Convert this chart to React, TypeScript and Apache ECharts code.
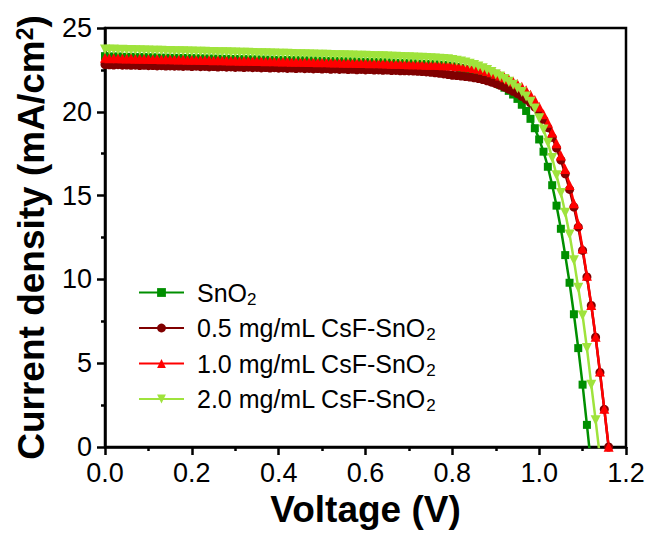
import React, { useEffect, useRef } from "react";
import * as echarts from "echarts";

const voltage = [
  0.0, 0.01, 0.02, 0.03, 0.04, 0.05, 0.06, 0.07, 0.08, 0.09,
  0.1, 0.11, 0.12, 0.13, 0.14, 0.15, 0.16, 0.17, 0.18, 0.19,
  0.2, 0.21, 0.22, 0.23, 0.24, 0.25, 0.26, 0.27, 0.28, 0.29,
  0.3, 0.31, 0.32, 0.33, 0.34, 0.35, 0.36, 0.37, 0.38, 0.39,
  0.4, 0.41, 0.42, 0.43, 0.44, 0.45, 0.46, 0.47, 0.48, 0.49,
  0.5, 0.51, 0.52, 0.53, 0.54, 0.55, 0.56, 0.57, 0.58, 0.59,
  0.6, 0.61, 0.62, 0.63, 0.64, 0.65, 0.66, 0.67, 0.68, 0.69,
  0.7, 0.71, 0.72, 0.73, 0.74, 0.75, 0.76, 0.77, 0.78, 0.79,
  0.8, 0.81, 0.82, 0.83, 0.84, 0.85, 0.86, 0.87, 0.88, 0.89,
  0.9, 0.91, 0.92, 0.93, 0.94, 0.95, 0.96, 0.97, 0.98, 0.99,
  1.0, 1.01, 1.02, 1.03, 1.04, 1.05, 1.06, 1.07, 1.08, 1.09,
  1.1, 1.11, 1.12, 1.13, 1.14, 1.15, 1.16,
];

const jSnO2 = [
  23.32, 23.30, 23.29, 23.30, 23.28, 23.27, 23.28, 23.26, 23.25, 23.26,
  23.24, 23.25, 23.23, 23.22, 23.23, 23.21, 23.22, 23.20, 23.21, 23.19,
  23.20, 23.18, 23.19, 23.17, 23.18, 23.16, 23.17, 23.15, 23.16, 23.14,
  23.15, 23.13, 23.14, 23.12, 23.13, 23.11, 23.12, 23.10, 23.11, 23.09,
  23.10, 23.08, 23.09, 23.07, 23.08, 23.06, 23.07, 23.05, 23.06, 23.04,
  23.05, 23.03, 23.04, 23.02, 23.02, 23.01, 23.00, 23.00, 22.99, 22.98,
  22.98, 22.97, 22.96, 22.96, 22.95, 22.94, 22.93, 22.92, 22.91, 22.90,
  22.89, 22.88, 22.87, 22.86, 22.85, 22.84, 22.83, 22.81, 22.79, 22.76,
  22.72, 22.67, 22.61, 22.54, 22.46, 22.37, 22.27, 22.16, 22.04, 21.91,
  21.77, 21.61, 21.44, 21.25, 21.03, 20.77, 20.42, 20.05, 19.58, 19.02,
  18.35, 17.62, 16.72, 15.62, 14.40, 13.02, 11.45, 9.80, 7.92, 5.90,
  3.72, 1.32, -1.15,
];

const jCsF05 = [
  22.82, 22.80, 22.79, 22.81, 22.78, 22.79, 22.77, 22.78, 22.76, 22.77,
  22.75, 22.76, 22.74, 22.75, 22.73, 22.74, 22.72, 22.73, 22.71, 22.73,
  22.70, 22.72, 22.69, 22.71, 22.68, 22.70, 22.67, 22.69, 22.66, 22.68,
  22.65, 22.67, 22.64, 22.66, 22.63, 22.65, 22.62, 22.64, 22.61, 22.63,
  22.60, 22.62, 22.59, 22.61, 22.58, 22.60, 22.57, 22.59, 22.56, 22.58,
  22.55, 22.57, 22.54, 22.56, 22.53, 22.55, 22.52, 22.54, 22.51, 22.53,
  22.50, 22.52, 22.49, 22.50, 22.48, 22.49, 22.46, 22.47, 22.45, 22.45,
  22.44, 22.43, 22.42, 22.40, 22.38, 22.36, 22.33, 22.30, 22.26, 22.22,
  22.18, 22.16, 22.13, 22.10, 22.07, 22.03, 21.98, 21.92, 21.85, 21.77,
  21.68, 21.58, 21.47, 21.35, 21.22, 21.08, 20.92, 20.74, 20.53, 20.28,
  19.98, 19.55, 19.05, 18.48, 17.84, 17.12, 16.30, 15.37, 14.32, 13.12,
  11.73, 10.15, 8.45, 6.55, 4.45, 2.25, 0.00,
];

const jCsF10 = [
  23.22, 23.20, 23.21, 23.19, 23.20, 23.18, 23.19, 23.17, 23.18, 23.16,
  23.17, 23.15, 23.16, 23.14, 23.15, 23.13, 23.14, 23.12, 23.13, 23.11,
  23.12, 23.10, 23.11, 23.09, 23.10, 23.08, 23.09, 23.07, 23.08, 23.06,
  23.07, 23.05, 23.06, 23.04, 23.05, 23.03, 23.04, 23.02, 23.03, 23.01,
  23.02, 23.00, 23.01, 22.99, 23.00, 22.98, 22.99, 22.97, 22.98, 22.96,
  22.97, 22.95, 22.96, 22.94, 22.95, 22.93, 22.94, 22.92, 22.93, 22.91,
  22.92, 22.90, 22.91, 22.89, 22.89, 22.88, 22.87, 22.86, 22.86, 22.85,
  22.84, 22.83, 22.83, 22.82, 22.81, 22.81, 22.80, 22.79, 22.78, 22.77,
  22.76, 22.74, 22.72, 22.69, 22.66, 22.62, 22.57, 22.51, 22.44, 22.36,
  22.27, 22.17, 22.06, 21.94, 21.81, 21.66, 21.49, 21.29, 21.02, 20.70,
  20.30, 19.85, 19.35, 18.77, 18.12, 17.40, 16.58, 15.63, 14.55, 13.30,
  11.85, 10.22, 8.48, 6.58, 4.50, 2.28, 0.02,
];

const jCsF20 = [
  23.72, 23.70, 23.71, 23.69, 23.70, 23.68, 23.68, 23.67, 23.67, 23.66,
  23.66, 23.65, 23.65, 23.64, 23.63, 23.63, 23.62, 23.62, 23.61, 23.60,
  23.60, 23.59, 23.59, 23.58, 23.57, 23.57, 23.56, 23.56, 23.55, 23.54,
  23.54, 23.53, 23.52, 23.52, 23.51, 23.50, 23.50, 23.49, 23.48, 23.48,
  23.47, 23.46, 23.46, 23.45, 23.44, 23.44, 23.43, 23.42, 23.42, 23.41,
  23.40, 23.40, 23.39, 23.38, 23.38, 23.37, 23.36, 23.36, 23.35, 23.34,
  23.34, 23.33, 23.32, 23.31, 23.31, 23.30, 23.29, 23.28, 23.27, 23.26,
  23.25, 23.24, 23.23, 23.22, 23.21, 23.20, 23.18, 23.17, 23.15, 23.13,
  23.09, 23.05, 23.00, 22.94, 22.87, 22.79, 22.70, 22.60, 22.49, 22.37,
  22.24, 22.10, 21.95, 21.79, 21.61, 21.41, 21.18, 20.92, 20.60, 20.20,
  19.62, 18.95, 18.15, 17.24, 16.22, 15.15, 13.98, 12.68, 11.15, 9.50,
  7.85, 5.90, 3.72, 1.60, -0.60,
];

const seriesNames = ["SnO2", "0.5 mg/mL CsF-SnO2", "1.0 mg/mL CsF-SnO2", "2.0 mg/mL CsF-SnO2"];
const seriesLabels = ["{n|SnO}{s|2}", "{n|0.5 mg/mL CsF-SnO}{s|2}", "{n|1.0 mg/mL CsF-SnO}{s|2}", "{n|2.0 mg/mL CsF-SnO}{s|2}"];
const seriesValues = [jSnO2, jCsF05, jCsF10, jCsF20];
const seriesColors = ["#008f00", "#800000", "#ff0000", "#9fe33c"];
const seriesSymbols = ["rect", "circle", "triangle", "path://M0,0 L10,0 L5,9 Z"];
const seriesSymbolSizes = [8, 9, 10, 10];

const FONT = "'Liberation Sans', Arial, Helvetica, sans-serif";

export default function App() {
  const ref = useRef<HTMLDivElement>(null);
  useEffect(() => {
    if (!ref.current) return;
    const chart = echarts.init(ref.current, null, { renderer: "svg" });
    const labelMap: Record<string, string> = {};
    seriesNames.forEach((n, i) => (labelMap[n] = seriesLabels[i]));
    chart.setOption({
      animation: false,
      backgroundColor: "#ffffff",
      textStyle: { fontFamily: FONT },
      grid: {
        left: 105,
        right: 26,
        top: 28,
        bottom: 91,
        show: true,
        borderColor: "#000",
        borderWidth: 2.5,
        backgroundColor: "transparent",
      },
      legend: {
        orient: "vertical",
        left: 138,
        top: 280,
        padding: 0,
        itemWidth: 45,
        itemHeight: 11,
        itemGap: 8,
        data: seriesNames,
        formatter: (name: string) => labelMap[name] || name,
        textStyle: {
          fontFamily: FONT,
          color: "#000",
          padding: [0, 0, 0, 8],
          rich: {
            n: { fontSize: 25, lineHeight: 30, fontFamily: FONT, color: "#000" },
            s: { fontSize: 17, lineHeight: 14, verticalAlign: "bottom", fontFamily: FONT, color: "#000" },
          },
        },
      },
      xAxis: {
        type: "value",
        min: 0,
        max: 1.2,
        interval: 0.2,
        name: "Voltage (V)",
        nameLocation: "middle",
        nameGap: 41,
        nameTextStyle: { fontSize: 37, fontWeight: "bold", color: "#000", fontFamily: FONT },
        axisLine: { show: true, onZero: false, lineStyle: { color: "#000", width: 2.5 } },
        axisTick: { show: true, inside: false, length: 8, lineStyle: { color: "#000", width: 2.5 } },
        minorTick: { show: true, splitNumber: 2, length: 4, lineStyle: { color: "#000", width: 2.5 } },
        axisLabel: {
          fontSize: 27,
          color: "#000",
          margin: 12,
          fontFamily: FONT,
          formatter: (v: number) => v.toFixed(1),
        },
        splitLine: { show: false },
      },
      yAxis: {
        type: "value",
        min: 0,
        max: 25,
        interval: 5,
        name: "Current density (mA/cm{sup|2})",
        nameLocation: "middle",
        nameGap: 55,
        nameTextStyle: {
          fontSize: 37,
          fontWeight: "bold",
          color: "#000",
          fontFamily: FONT,
          rich: {
            sup: { fontSize: 23, fontWeight: "bold", verticalAlign: "top", lineHeight: 20, color: "#000", fontFamily: FONT },
          },
        },
        axisLine: { show: true, onZero: false, lineStyle: { color: "#000", width: 2.5 } },
        axisTick: { show: true, inside: false, length: 8, lineStyle: { color: "#000", width: 2.5 } },
        minorTick: { show: true, splitNumber: 2, length: 4, lineStyle: { color: "#000", width: 2.5 } },
        axisLabel: { fontSize: 27, color: "#000", margin: 13, fontFamily: FONT },
        splitLine: { show: false },
      },
      series: seriesNames.map((name, i) => ({
        name,
        type: "line",
        data: seriesValues[i].map((j, k) => [voltage[k], j]),
        symbol: seriesSymbols[i],
        symbolSize: seriesSymbolSizes[i],
        showAllSymbol: true,
        clip: true,
        lineStyle: { color: seriesColors[i], width: 2.5 },
        itemStyle: { color: seriesColors[i] },
        emphasis: { disabled: true },
      })),
    });
    return () => chart.dispose();
  }, []);
  return <div ref={ref} style={{ width: 652, height: 538, position: "absolute", left: 0, top: 0 }} />;
}
